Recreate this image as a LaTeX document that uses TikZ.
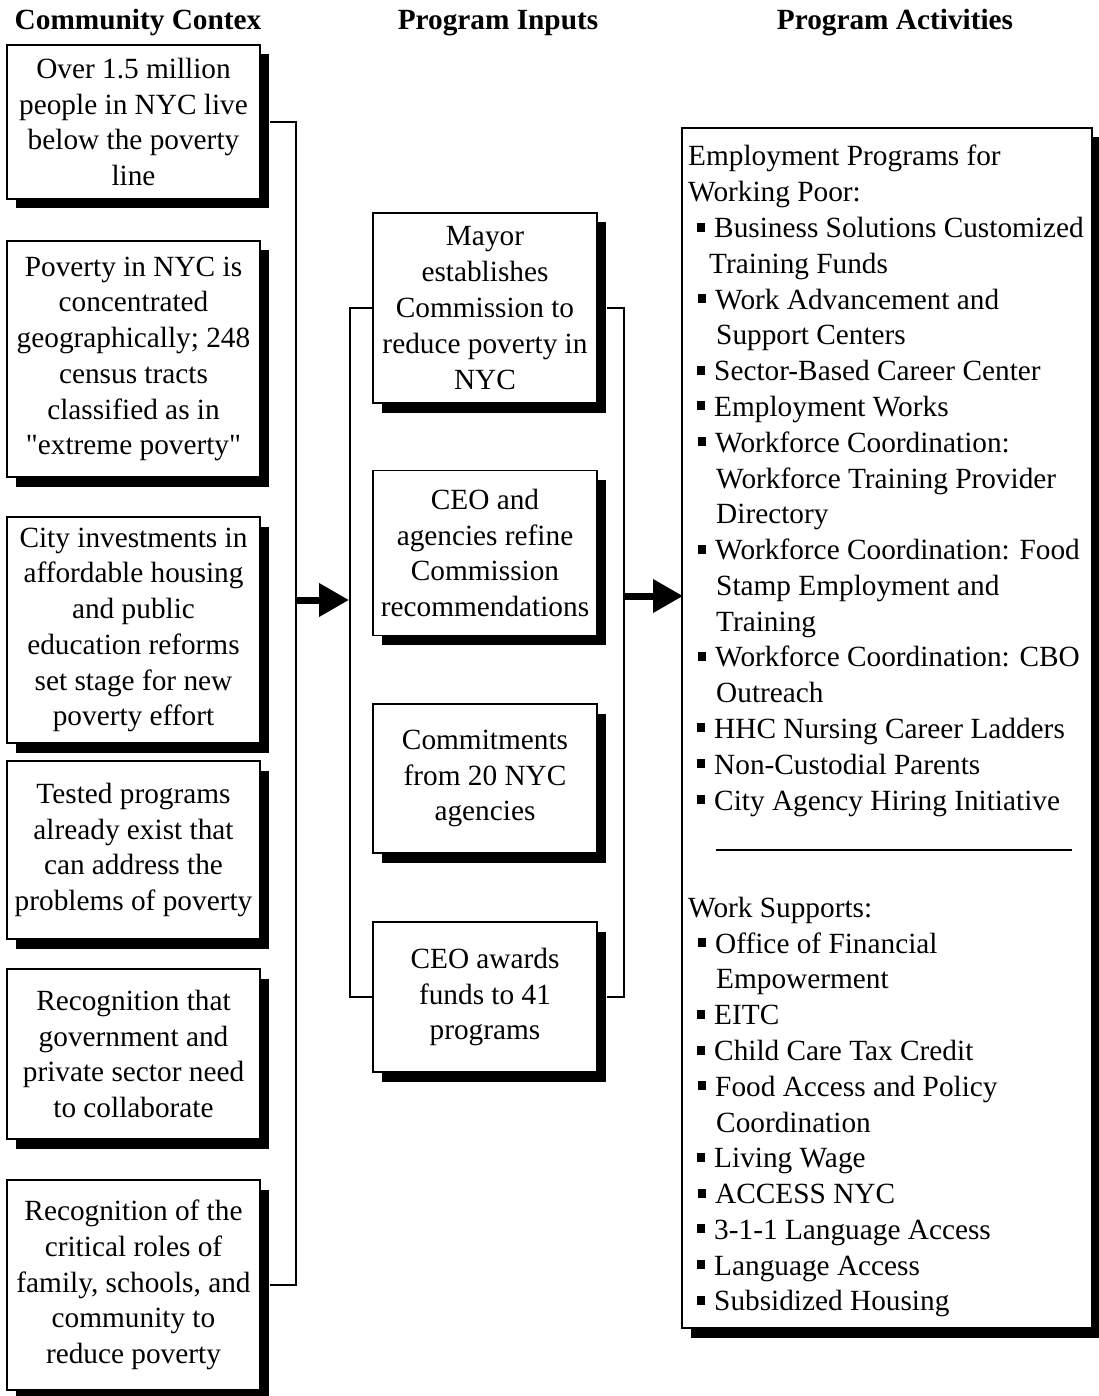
\documentclass[tikz,border=0pt]{standalone}
\usepackage{fontspec}
\setmainfont{Liberation Serif}[Ligatures=TeXOff]
\usetikzlibrary{shadows,arrows.meta}
\newcommand\bul{\llap{\rule[6pt]{8pt}{9pt}\hspace{9pt}}}
\begin{document}
\begin{tikzpicture}[x=1pt,y=-1pt,
  txt/.style={font=\fontsize{29.3}{35.78}\selectfont},
  box/.style={txt, draw, fill=white, align=center, inner sep=0pt, line width=1.8pt,
    drop shadow={fill=black,opacity=1,shadow xshift=9pt,shadow yshift=-9.5pt}},
  cone/.style={box, minimum width=253pt},
  ctwo/.style={box, minimum width=224pt},
  head/.style={font=\fontsize{29.3}{35.78}\selectfont\bfseries, anchor=base, inner sep=0pt},
  ln/.style={txt, anchor=base west, inner sep=0pt},
  conn/.style={line width=1.8pt},
  bigarrow/.style={line width=7pt, -{Triangle[length=30pt,width=32pt]}}]
\useasboundingbox (0,0) rectangle (1099,1396);

% headings
\node[head] (h1) at (138,30) {Community Contex};
\node[head] (h2) at (498,30) {Program Inputs};
\node[head] (h3) at (895,30) {Program Activities};

% column 1
\node[cone, minimum height=154pt] (b1) at (133.5,122) {Over 1.5 million\\people in NYC live\\below the poverty\\line};
\node[cone, minimum height=236pt] (b2) at (133.5,359) {Poverty in NYC is\\concentrated\\geographically; 248\\census tracts\\classified as in\\"extreme poverty"};
\node[cone, minimum height=226pt] (b3) at (133.5,630) {City investments in\\affordable housing\\and public\\education reforms\\set stage for new\\poverty effort};
\node[cone, minimum height=178pt] (b4) at (133.5,850) {Tested programs\\already exist that\\can address the\\problems of poverty};
\node[cone, minimum height=170pt] (b5) at (133.5,1054) {Recognition that\\government and\\private sector need\\to collaborate};
\node[cone, minimum height=210pt] (b6) at (133.5,1285) {Recognition of the\\critical roles of\\family, schools, and\\community to\\reduce poverty};

% column 2
\node[ctwo, minimum height=190pt] (pa) at (485,308) {Mayor\\establishes\\Commission to\\reduce poverty in\\NYC};
\node[ctwo, minimum height=165pt] (pb) at (485,553) {CEO and\\agencies refine\\Commission\\recommendations};
\node[ctwo, minimum height=149pt] (pc) at (485,778.5) {Commitments\\from 20 NYC\\agencies};
\node[ctwo, minimum height=150pt] (pd) at (485,997) {CEO awards\\funds to 41\\programs};

% column 3
\node[box, minimum width=410pt, minimum height=1200pt] (act) at (887,728) {};
\foreach \x/\n/\t in {
  688/1/{Employment Programs for},
  688/2/{Working Poor:},
  714/3/{\bul Business Solutions Customized},
  709/4/{Training Funds},
  715/5/{\bul Work Advancement and},
  716/6/{Support Centers},
  714/7/{\bul Sector-Based Career Center},
  714/8/{\bul Employment Works},
  715/9/{\bul Workforce Coordination:},
  716/10/{Workforce Training Provider},
  716/11/{Directory},
  715/12/{\bul Workforce Coordination: Food},
  716/13/{Stamp Employment and},
  716/14/{Training},
  715/15/{\bul Workforce Coordination: CBO},
  716/16/{Outreach},
  714/17/{\bul HHC Nursing Career Ladders},
  714/18/{\bul Non-Custodial Parents},
  714/19/{\bul City Agency Hiring Initiative},
  688/22/{Work Supports:},
  715/23/{\bul Office of Financial},
  716/24/{Empowerment},
  714/25/{\bul EITC},
  714/26/{\bul Child Care Tax Credit},
  715/27/{\bul Food Access and Policy},
  716/28/{Coordination},
  714/29/{\bul Living Wage},
  715/30/{\bul ACCESS NYC},
  714/31/{\bul 3-1-1 Language Access},
  714/32/{\bul Language Access},
  714/33/{\bul Subsidized Housing}}
  \node[ln] (t\n) at (\x,{166+35.78*(\n-1)}) {\t};
\coordinate (sepa) at (716,850);
\coordinate (sepb) at (1072,850);
\draw[line width=1.2pt] (sepa) -- (sepb);

% connectors
\draw[conn] ([xshift=9pt]b1.east) -- ++(26,0) |- ([xshift=9pt]b6.east);
\draw[conn] (pa.west) -- ++(-22,0) |- (pd.west);
\draw[conn] ([xshift=9pt]pa.east) -- ++(17,0) |- ([xshift=9pt]pd.east);

\coordinate (a1s) at (295,600);
\coordinate (a1e) at (349,600);
\coordinate (a2s) at (623,596);
\coordinate (a2e) at (683,596);
\draw[bigarrow] (a1s) -- (a1e);
\draw[bigarrow] (a2s) -- (a2e);
\end{tikzpicture}
\end{document}
